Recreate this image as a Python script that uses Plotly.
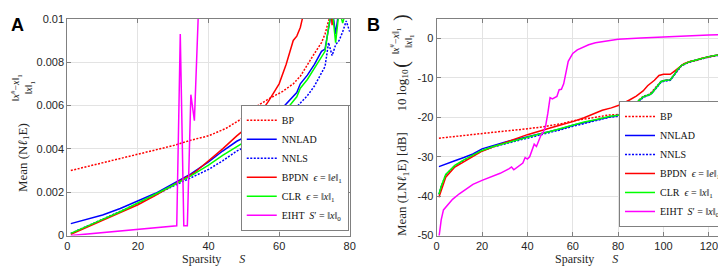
import plotly.graph_objects as go

# ---------------- Panel A: Mean(Nl1E) vs sparsity ----------------
bp_a_s = [1, 10, 20, 30, 35, 40, 45, 50, 53, 57, 61, 64, 66, 68, 70, 72, 73, 74, 75, 77, 80]
bp_a_v = [0.00300, 0.00335, 0.00375, 0.00415, 0.00440, 0.00460, 0.00495, 0.00545, 0.00590,
          0.00630, 0.00665, 0.00700, 0.00735, 0.00790, 0.00840, 0.00890, 0.00930, 0.00990,
          0.0104, 0.0108, 0.0115]

nnlad_a_s = [1, 5, 10, 15, 20, 25, 30, 35, 40, 44, 48, 51, 54, 57, 59, 61, 63, 65, 66, 68,
             70, 72, 73, 74, 75, 76, 77, 78, 80]
nnlad_a_v = [0.00055, 0.00072, 0.00095, 0.00125, 0.00160, 0.00195, 0.00240, 0.00285, 0.00340,
             0.00390, 0.00435, 0.00460, 0.00490, 0.00525, 0.00555, 0.00590, 0.00625, 0.00660,
             0.00700, 0.00740, 0.00790, 0.00850, 0.00860, 0.00960, 0.0105, 0.0093, 0.0105,
             0.0110, 0.0115]

nnls_a_s = [1, 10, 20, 30, 35, 40, 44, 48, 51, 54, 57, 60, 63, 66, 68, 70, 72, 73, 74, 75,
            76, 77, 78, 79, 80]
nnls_a_v = [0.00010, 0.00075, 0.00148, 0.00228, 0.00265, 0.00305, 0.00345, 0.00390, 0.00415,
            0.00435, 0.00465, 0.00510, 0.00560, 0.00610, 0.00645, 0.00690, 0.00750, 0.00780,
            0.00890, 0.00830, 0.00880, 0.00900, 0.00940, 0.00990, 0.00940]

bpdn_a_s = [1, 5, 10, 15, 20, 25, 30, 33, 36, 40, 44, 48, 51, 54, 57, 60, 62, 64, 65, 66,
            67, 70, 74, 75, 76, 80]
bpdn_a_v = [0.00006, 0.00035, 0.00070, 0.00105, 0.00142, 0.00185, 0.00232, 0.00260, 0.00290,
            0.00345, 0.00400, 0.00460, 0.00500, 0.00550, 0.00620, 0.00700, 0.00790, 0.00900,
            0.00920, 0.00960, 0.01030, 0.0115, 0.0120, 0.0097, 0.0115, 0.0130]

clr_a_s = [1, 5, 10, 15, 20, 25, 30, 35, 40, 44, 48, 51, 54, 57, 59, 61, 63, 65, 66, 68,
           70, 72, 73, 74, 75, 76, 77, 78, 79, 80]
clr_a_v = [0.00010, 0.00040, 0.00075, 0.00110, 0.00150, 0.00190, 0.00232, 0.00275, 0.00325,
           0.00370, 0.00410, 0.00440, 0.00470, 0.00505, 0.00535, 0.00570, 0.00600, 0.00640,
           0.00680, 0.00720, 0.00770, 0.00820, 0.00850, 0.00960, 0.0105, 0.0089, 0.0104,
           0.0098, 0.0105, 0.0110]

eiht_a_s = [1, 31, 32, 33, 34, 35, 36, 37, 40, 60, 80]
eiht_a_v = [0.0, 0.00045, 0.0093, 0.00045, 0.00045, 0.0065, 0.0053, 0.015, 0.03, 0.1, 0.2]

# ---------------- Panel B: Mean(LNl1E) [dB] vs sparsity ----------------
bp_b_s = [1, 10, 20, 30, 40, 47, 55, 62, 70, 76, 80, 82, 85, 88, 91, 94, 97, 99, 103, 105,
          108, 111, 114, 117, 120, 124, 128]
bp_b_v = [-25.3, -24.7, -24.1, -23.5, -22.9, -22.4, -21.6, -20.7, -20.0, -19.4, -19.3, -19.1,
          -17.7, -16.2, -14.7, -14.1, -12.2, -10.8, -10.4, -8.9, -6.8, -6.0, -5.5, -5.0, -4.6,
          -4.2, -3.7]

nnlad_b_s = [1, 4, 8, 12, 16, 20, 25, 30, 35, 40, 45, 50, 55, 60, 65, 70, 73, 76, 80, 82,
             85, 88, 91, 94, 95, 97, 99, 101, 103, 105, 106, 108, 111, 114, 117, 120, 124, 128]
nnlad_b_v = [-32.5, -31.8, -31.0, -30.2, -29.3, -28.0, -27.1, -26.3, -25.6, -24.9, -24.2,
             -23.6, -22.9, -22.0, -21.3, -20.7, -20.3, -19.9, -19.5, -19.3, -18.0, -16.4,
             -14.8, -14.2, -13.8, -12.3, -10.9, -10.6, -10.5, -9.0, -8.0, -6.8, -6.0, -5.5,
             -5.0, -4.6, -4.2, -3.7]

nnls_b_s = [1, 2, 4, 8, 12, 16, 20, 25, 30, 35, 40, 45, 50, 55, 60, 65, 70, 73, 76, 80, 82,
            85, 88, 91, 94, 97, 99, 103, 105, 108, 111, 114, 117, 120, 124, 128]
nnls_b_v = [-39.6, -37.6, -34.6, -32.3, -30.9, -29.7, -28.5, -27.5, -26.7, -26.0, -25.3,
            -24.6, -23.9, -23.1, -22.3, -21.6, -20.9, -20.5, -20.0, -19.7, -19.4, -18.1,
            -16.6, -15.0, -14.3, -12.5, -11.0, -10.6, -9.1, -6.9, -6.1, -5.6, -5.1, -4.7,
            -4.3, -3.8]

bpdn_b_s = [1, 2, 4, 8, 12, 16, 20, 25, 30, 35, 40, 45, 50, 55, 60, 65, 70, 73, 77, 81, 85,
            88, 91, 93, 96, 98, 100, 103, 105, 107, 109, 112, 114, 117, 120, 124, 128]
bpdn_b_v = [-40.3, -38.5, -35.2, -32.6, -31.2, -29.9, -28.6, -27.5, -26.4, -25.4, -24.4,
            -23.5, -22.7, -21.9, -21.1, -20.1, -19.0, -18.2, -17.6, -16.8, -15.6, -14.6,
            -13.3, -12.0, -10.6, -9.4, -9.1, -9.1, -8.2, -7.2, -6.4, -5.8, -5.6, -5.0, -4.6,
            -4.2, -3.7]

clr_b_s = [1, 2, 4, 8, 12, 16, 20, 25, 30, 35, 40, 45, 50, 55, 60, 65, 70, 73, 76, 80, 82,
           85, 88, 91, 94, 95, 97, 99, 101, 103, 105, 106, 108, 111, 114, 117, 120, 124, 128]
clr_b_v = [-39.5, -37.5, -34.5, -32.2, -30.8, -29.6, -28.4, -27.4, -26.6, -25.8, -25.0,
           -24.3, -23.6, -22.8, -21.9, -21.2, -20.6, -20.2, -19.8, -19.5, -19.2, -17.8,
           -16.3, -14.8, -14.2, -13.8, -12.3, -10.9, -10.6, -10.5, -9.0, -8.0, -6.8, -6.0,
           -5.5, -5.0, -4.6, -4.2, -3.7]

eiht_b_s = [1, 2, 3, 5, 7, 10, 13, 16, 20, 24, 28, 32, 33, 34, 36, 38, 39, 40, 41, 42, 43,
            44, 45, 46, 47, 48, 49, 50, 51, 52, 53, 54, 55, 56, 57, 58, 59, 60, 62, 64, 67,
            70, 74, 80, 90, 100, 110, 120, 128]
eiht_b_v = [-50.5, -46.0, -43.5, -42.0, -40.8, -39.4, -38.2, -37.0, -36.0, -35.2, -34.2,
            -33.0, -32.6, -33.3, -32.5, -31.6, -30.2, -30.6, -30.0, -28.5, -26.8, -27.4,
            -26.0, -24.5, -23.8, -22.3, -19.0, -15.0, -15.3, -15.1, -14.7, -13.0, -12.9,
            -11.5, -8.5, -5.8, -4.8, -3.8, -2.9, -2.4, -1.6, -1.1, -0.7, -0.2, 0.1, 0.4,
            0.7, 0.9, 1.0]

legend_names = ["BP", "NNLAD", "NNLS",
                "BPDN  <i>ϵ</i> = ‖<i>e</i>‖<sub>1</sub>",
                "CLR  <i>ϵ</i> = ‖<i>x</i>‖<sub>1</sub>",
                "EIHT  <i>S</i>′ = ‖<i>x</i>‖<sub>0</sub>"]
colors = ["#ff0000", "#0000ff", "#0000ff", "#ff0000", "#00ff00", "#ff00ff"]
dashes = ["2px,1.5px", "solid", "2px,1.5px", "solid", "solid", "solid"]

yA_ticks = [0, 0.002, 0.004, 0.006, 0.008, 0.01]
yA_text = ["0", "0.002", "0.004", "0.006", "0.008", "0.01"]
xA_ticks = [0, 20, 40, 60, 80]
yB_ticks = [-50, -40, -30, -20, -10, 0]
yB_text = ["-50", "-40", "-30", "-20", "-10", "0"]
xB_ticks = [0, 20, 40, 60, 80, 100, 120]

panelA = [(bp_a_s, bp_a_v), (nnlad_a_s, nnlad_a_v), (nnls_a_s, nnls_a_v),
          (bpdn_a_s, bpdn_a_v), (clr_a_s, clr_a_v), (eiht_a_s, eiht_a_v)]
panelB = [(bp_b_s, bp_b_v), (nnlad_b_s, nnlad_b_v), (nnls_b_s, nnls_b_v),
          (bpdn_b_s, bpdn_b_v), (clr_b_s, clr_b_v), (eiht_b_s, eiht_b_v)]

fig = go.Figure()
for i, (sx, sy) in enumerate(panelA):
    fig.add_trace(go.Scatter(x=sx, y=sy, mode="lines", name=legend_names[i],
                             line=dict(color=colors[i], dash=dashes[i], width=1.5),
                             xaxis="x", yaxis="y", legend="legend"))
for i, (sx, sy) in enumerate(panelB):
    fig.add_trace(go.Scatter(x=sx, y=sy, mode="lines", name=legend_names[i],
                             line=dict(color=colors[i], dash=dashes[i], width=1.5),
                             xaxis="x2", yaxis="y2", legend="legend2"))

W, H = 726, 267
def px_x(p):
    return p / W
def px_y(p):
    return 1 - p / H

ydom = [px_y(232), px_y(5)]
tickfont = dict(family="Liberation Sans, Arial, sans-serif", size=11, color="#262626")
axcommon = dict(showline=True, linecolor="#808080", linewidth=1, mirror="ticks",
                ticks="inside", ticklen=4, tickcolor="#808080", showgrid=True,
                gridcolor="#e3e3e3", gridwidth=1, zeroline=False, tickfont=tickfont,
                ticklabeloverflow="allow")

legfont = dict(family="Liberation Serif, DejaVu Serif, serif", size=10, color="#111111")
fig.update_layout(
    width=W, height=H, margin=dict(l=0, r=0, t=0, b=0),
    paper_bgcolor="white", plot_bgcolor="white",
    xaxis=dict(domain=[px_x(57), px_x(343)], range=[0, 80], tickvals=xA_ticks,
               anchor="y", **axcommon),
    yaxis=dict(domain=ydom, range=[0, 0.01], tickvals=yA_ticks, ticktext=yA_text,
               anchor="x", **axcommon),
    xaxis2=dict(domain=[px_x(431), px_x(725)], range=[0, 128], tickvals=xB_ticks,
                anchor="y2", **axcommon),
    yaxis2=dict(domain=ydom, range=[-50, 5], tickvals=yB_ticks, ticktext=yB_text,
                anchor="x2", **axcommon),
    legend=dict(x=px_x(342), y=px_y(227), xanchor="right", yanchor="bottom",
                bgcolor="white", bordercolor="#808080", borderwidth=1,
                font=legfont, tracegroupgap=0, itemwidth=30),
    legend2=dict(x=px_x(725), y=px_y(223), xanchor="right", yanchor="bottom",
                 bgcolor="white", bordercolor="#808080", borderwidth=1,
                 font=legfont, tracegroupgap=0, itemwidth=30),
    showlegend=True,
)

serif = dict(family="Liberation Serif, serif", size=12, color="#262626")
small_serif = dict(family="Liberation Serif, DejaVu Serif, serif", size=10, color="#262626")
paren = dict(family="Liberation Serif, serif", size=20, color="#262626")
ann = []
# panel letters
ann.append(dict(text="<b>A</b>", x=px_x(7), y=px_y(11), font=dict(family="Liberation Sans, Arial", size=18, color="black")))
ann.append(dict(text="<b>B</b>", x=px_x(367), y=px_y(11), font=dict(family="Liberation Sans, Arial", size=18, color="black")))
# x titles
ann.append(dict(text="Sparsity\u2003\u2002<i>S</i>", x=px_x(205), y=px_y(257), font=serif))
ann.append(dict(text="Sparsity\u2003\u2002<i>S</i>", x=px_x(583), y=px_y(257), font=serif))
# y title panel A
ann.append(dict(text="Mean (N<i>ℓ</i><sub>1</sub>E)", x=px_x(12), y=px_y(150), textangle=-90,
                font=dict(family="Liberation Serif, serif", size=13, color="#262626")))
ann.append(dict(text="‖<i>x</i><sup>#</sup>−<i>x</i>‖<sub>1</sub><br>‖<i>x</i>‖<sub>1</sub>",
                x=px_x(12), y=px_y(77), textangle=-90, font=small_serif))
# y title panel B
ann.append(dict(text="Mean (LN<i>ℓ</i><sub>1</sub>E) [dB]", x=px_x(396), y=px_y(178), textangle=-90,
                font=dict(family="Liberation Serif, serif", size=13, color="#262626")))
ann.append(dict(text="10 log<sub>10</sub>", x=px_x(396), y=px_y(80), textangle=-90,
                font=dict(family="Liberation Serif, serif", size=13, color="#262626")))
ann.append(dict(text="‖<i>x</i><sup>#</sup>−<i>x</i>‖<sub>1</sub><br>‖<i>x</i>‖<sub>1</sub>",
                x=px_x(396), y=px_y(28), textangle=-90, font=small_serif))
ann.append(dict(text="(", x=px_x(396), y=px_y(53), textangle=-90, font=paren))
ann.append(dict(text=")", x=px_x(396), y=px_y(4), textangle=-90, font=paren))
for a in ann:
    a.update(xref="paper", yref="paper", showarrow=False, xanchor="center", yanchor="middle")
fig.update_layout(annotations=ann)

fig.write_html("out.html")
